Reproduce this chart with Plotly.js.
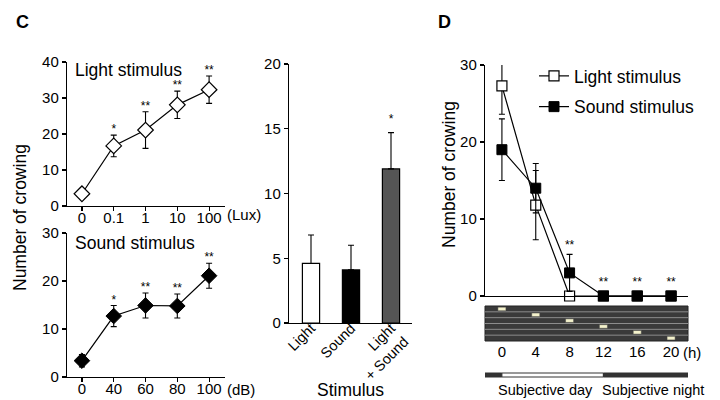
<!DOCTYPE html>
<html><head><meta charset="utf-8">
<script src="https://cdn.plot.ly/plotly-3.0.1.min.js"></script>
<style>html,body{margin:0;padding:0;background:#fff}#chart{width:720px;height:400px}</style>
</head><body><div id="chart"></div>
<script>
// ---- Panel C (top): light stimulus ----
const lightLevels = ['0', '0.1', '1', '10', '100'];
const lightMean = [3.4, 16.7, 21.1, 28.1, 32.3];
const lightErr = [1.3, 3.0, 5.1, 3.8, 3.8];
const lightStars = ['', '*', '**', '**', '**'];
// ---- Panel C (bottom): sound stimulus ----
const soundLevels = ['0', '40', '60', '80', '100'];
const soundMean = [3.4, 12.7, 14.9, 14.8, 21.1];
const soundErr = [1.3, 2.2, 2.6, 2.5, 2.6];
const soundStars = ['', '*', '**', '**', '**'];
// ---- Panel C (right): combined stimulus ----
const stimCats = ['Light', 'Sound', 'Light<br>+ Sound'];
const stimMean = [4.6, 4.1, 11.9];
const stimErr = [2.2, 1.9, 2.8];
const stimStars = ['', '', '*'];
const stimColors = ['#ffffff', '#000000', '#555555'];
// ---- Panel D: time of day ----
const hours = [0, 4, 8, 12, 16, 20];
const dLight = [27.3, 11.8, 0, 0, 0, 0];
const dLightErr = [3.7, 4.5, 0, 0, 0, 0];
const dSound = [19.0, 14.0, 3.0, 0, 0, 0];
const dSoundErr = [4.0, 3.2, 2.4, 0, 0, 0];
const dStars = ['', '', '**', '**', '**', '**'];
// actogram pulses (row, hour)
const pulseRows = [0, 1, 2, 3, 4, 5];
const pulseHours = [0, 4, 8, 12, 16, 20];
// subjective day / night bar
const phaseStart = [-2, 0, 12];
const phaseEnd = [0, 12, 22];
const phaseFill = ['#333333', '#ffffff', '#333333'];

const W = 720, H = 400;
const px = x => x / W;
const py = y => 1 - y / H;
const FONT = 'Liberation Sans, Arial, Helvetica, sans-serif';
const idx = a => a.map((_, i) => i);

const errStyle = (arr) => ({type: 'data', array: arr, visible: true, color: '#000', thickness: 1.1, width: 3});
const starFont = {size: 12, color: '#000', family: FONT};

const traces = [
  {x: idx(lightLevels), y: lightMean, xaxis: 'x', yaxis: 'y', type: 'scatter', mode: 'lines+markers',
   line: {color: '#000', width: 1.2}, marker: {symbol: 'diamond', size: 12, color: '#fff', line: {color: '#000', width: 1.2}},
   error_y: errStyle(lightErr), showlegend: false, cliponaxis: false},
  {x: idx(lightLevels), y: lightMean.map((m, i) => m + lightErr[i] + 1.3), text: lightStars, xaxis: 'x', yaxis: 'y',
   type: 'scatter', mode: 'text', textfont: starFont, showlegend: false, cliponaxis: false},
  {x: idx(soundLevels), y: soundMean, xaxis: 'x2', yaxis: 'y2', type: 'scatter', mode: 'lines+markers',
   line: {color: '#000', width: 1.2}, marker: {symbol: 'diamond', size: 12, color: '#000', line: {color: '#000', width: 1}},
   error_y: errStyle(soundErr), showlegend: false, cliponaxis: false},
  {x: idx(soundLevels), y: soundMean.map((m, i) => m + soundErr[i] + 1.0), text: soundStars, xaxis: 'x2', yaxis: 'y2',
   type: 'scatter', mode: 'text', textfont: starFont, showlegend: false, cliponaxis: false},
  {x: idx(stimCats), y: stimMean, xaxis: 'x3', yaxis: 'y3', type: 'bar', width: 0.43,
   marker: {color: stimColors, line: {color: '#000', width: 1.2}},
   error_y: {type: 'data', symmetric: false, array: stimErr, arrayminus: stimErr.map(() => 0), color: '#000', thickness: 1.1, width: 3},
   showlegend: false},
  {x: idx(stimCats), y: stimMean.map((m, i) => m + stimErr[i] + 1.0), text: stimStars, xaxis: 'x3', yaxis: 'y3',
   type: 'scatter', mode: 'text', textfont: starFont, showlegend: false, cliponaxis: false},
  {x: hours, y: dLight, xaxis: 'x4', yaxis: 'y4', type: 'scatter', mode: 'lines+markers', name: 'Light stimulus',
   legendgroup: 'a', line: {color: '#000', width: 1.2},
   marker: {symbol: 'square', size: 10, color: '#fff', line: {color: '#000', width: 1.2}},
   error_y: errStyle(dLightErr), cliponaxis: false},
  {x: hours, y: dSound, xaxis: 'x4', yaxis: 'y4', type: 'scatter', mode: 'lines+markers', name: 'Sound stimulus',
   legendgroup: 'b', line: {color: '#000', width: 1.2},
   marker: {symbol: 'square', size: 10, color: '#000', line: {color: '#000', width: 1}},
   error_y: errStyle(dSoundErr), cliponaxis: false},
  {x: hours, y: hours.map((_, i) => Math.max(dLight[i] + dLightErr[i], dSound[i] + dSoundErr[i], 0.6) + 1.1), text: dStars,
   xaxis: 'x4', yaxis: 'y4', type: 'scatter', mode: 'text', textfont: starFont,
   showlegend: false, cliponaxis: false},
  {x: pulseHours, y: pulseRows.map(() => 0.62), base: pulseRows.map(r => r + 0.2), xaxis: 'x5', yaxis: 'y5',
   type: 'bar', width: 0.95, marker: {color: '#f4f2cc', line: {color: '#444', width: 0.5}}, showlegend: false}
];

const ax = {showline: true, linecolor: '#000', linewidth: 1.2, ticks: 'outside', ticklen: 4, tickwidth: 1.2,
  tickcolor: '#000', showgrid: false, zeroline: false, tickfont: {size: 15, color: '#000', family: FONT}, fixedrange: true};

const shapes = [
  {type: 'rect', xref: 'x5 domain', yref: 'y5 domain', x0: 0, x1: 1, y0: 0, y1: 1,
   fillcolor: '#3a3a3a', line: {color: '#222', width: 1}, layer: 'below'}
];
for (let r = 1; r < pulseRows.length; r++) {
  shapes.push({type: 'line', xref: 'x5 domain', yref: 'y5', x0: 0, x1: 1, y0: r, y1: r,
    line: {color: '#8c8c8c', width: 1}, layer: 'below'});
}
phaseStart.forEach((s, i) => {
  shapes.push({type: 'rect', xref: 'x5', yref: 'paper', x0: s, x1: phaseEnd[i], y0: py(377), y1: py(373),
    fillcolor: phaseFill[i], line: {color: '#333', width: 1}});
});

const ann = (text, x, y, o = {}) => Object.assign({text, x: px(x), y: py(y), xref: 'paper', yref: 'paper',
  xanchor: 'center', yanchor: 'middle', showarrow: false, font: {size: 17.5, color: '#000', family: FONT}}, o);
const f15 = {size: 15, color: '#000', family: FONT};

const layout = {
  width: W, height: H, margin: {l: 0, r: 0, t: 0, b: 0},
  paper_bgcolor: '#fff', plot_bgcolor: 'rgba(0,0,0,0)',
  font: {family: FONT, color: '#000'},
  showlegend: true,
  legend: {x: px(534), y: py(58), xanchor: 'left', yanchor: 'top', bgcolor: 'rgba(0,0,0,0)',
    font: {size: 17.5, color: '#000', family: FONT}, traceorder: 'grouped', tracegroupgap: 5, itemwidth: 30},
  xaxis: Object.assign({}, ax, {domain: [px(67), px(225)], range: [-0.47, 4.5], tickvals: idx(lightLevels), ticktext: lightLevels, anchor: 'y', ticklabelstandoff: -6}),
  yaxis: Object.assign({}, ax, {domain: [py(206), py(62)], range: [0, 40], tickvals: [0, 10, 20, 30, 40], anchor: 'x'}),
  xaxis2: Object.assign({}, ax, {domain: [px(67), px(225)], range: [-0.47, 4.5], tickvals: idx(soundLevels), ticktext: soundLevels, anchor: 'y2', ticklabelstandoff: -6}),
  yaxis2: Object.assign({}, ax, {domain: [py(377), py(233)], range: [0, 30], tickvals: [0, 10, 20, 30], anchor: 'x2'}),
  xaxis3: Object.assign({}, ax, {domain: [px(289), px(412)], range: [-0.55, 2.525], tickvals: idx(stimCats), ticktext: stimCats,
    tickangle: -45, ticks: '', anchor: 'y3', ticklabelstandoff: -10, tickfont: {size: 14.5, color: '#000', family: FONT}}),
  yaxis3: Object.assign({}, ax, {domain: [py(323), py(64)], range: [0, 20], tickvals: [0, 5, 10, 15, 20], anchor: 'x3'}),
  xaxis4: Object.assign({}, ax, {domain: [px(485), px(688)], range: [-2, 22], showticklabels: false, ticks: '', anchor: 'y4'}),
  yaxis4: Object.assign({}, ax, {domain: [py(296), py(65)], range: [0, 30], tickvals: [0, 10, 20, 30], anchor: 'x4'}),
  xaxis5: Object.assign({}, ax, {domain: [px(485), px(688)], range: [-2, 22], showline: false, ticks: '',
    tickvals: hours, ticktext: hours.map(String), anchor: 'y5'}),
  yaxis5: Object.assign({}, ax, {domain: [py(341), py(306)], range: [6, 0], visible: false, anchor: 'x5'}),
  shapes: shapes,
  annotations: [
    ann('<b>C</b>', 22, 22, {font: {size: 18, color: '#000', family: FONT}}),
    ann('<b>D</b>', 444, 22, {font: {size: 18, color: '#000', family: FONT}}),
    ann('Light stimulus', 73, 70, {xanchor: 'left'}),
    ann('Sound stimulus', 73, 243, {xanchor: 'left'}),
    ann('(Lux)', 225, 214, {xanchor: 'left', font: f15}),
    ann('(dB)', 225, 389, {xanchor: 'left', font: f15}),
    ann('Number of crowing', 20, 218, {textangle: -90}),
    ann('Stimulus', 350, 390),
    ann('Number of crowing', 449, 175, {textangle: -90}),
    ann('(h)', 681, 352, {xanchor: 'left', font: f15}),
    ann('Subjective day', 545, 390, {font: {size: 14.5, color: '#000', family: FONT}}),
    ann('Subjective night', 653, 390, {font: {size: 14.5, color: '#000', family: FONT}})
  ]
};

Plotly.newPlot('chart', traces, layout, {displayModeBar: false, staticPlot: true});
</script>
</body></html>
